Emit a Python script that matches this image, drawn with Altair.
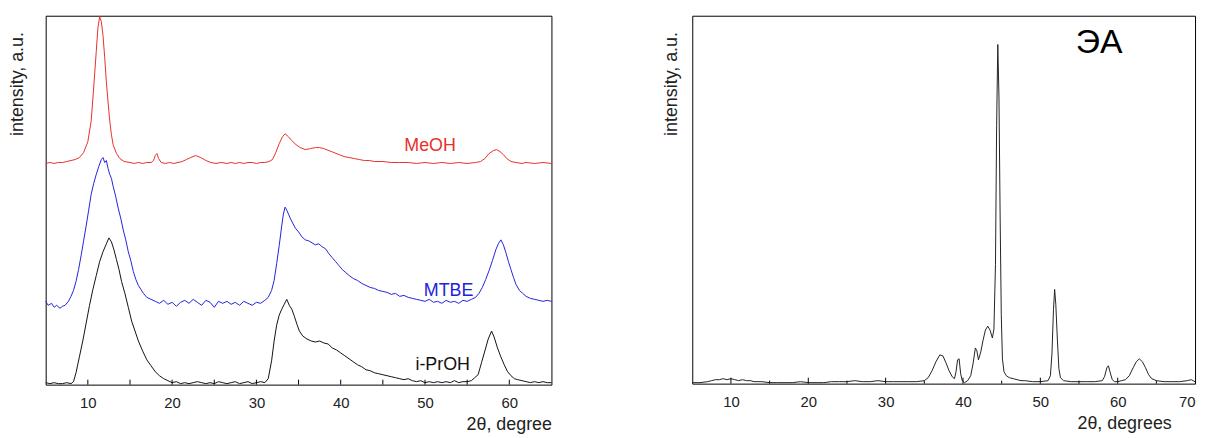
import altair as alt
import pandas as pd

# ---------------- left panel data ----------------
meoh_x = [5.0, 5.5, 6.0, 6.5, 7.0, 7.5, 8.0, 8.5, 9.0, 9.5, 10.0, 10.4, 10.7, 11.0, 11.2, 11.4, 11.6, 11.8,
          12.0, 12.2, 12.4, 12.6, 12.8, 13.0, 13.4, 13.8, 14.3, 15.0, 15.5, 16.0, 16.5, 17.0, 17.5, 17.8,
          18.0, 18.2, 18.4, 18.7, 19.2, 19.7, 20.2, 20.7, 21.2, 21.7, 22.2, 22.8, 23.4, 24.0, 24.6, 25.2,
          25.8, 26.5, 27.0, 27.5, 28.0, 28.5, 29.0, 29.5, 30.0, 30.5, 31.0, 31.5, 31.9, 32.3, 32.7, 33.1,
          33.4, 33.8, 34.2, 34.7, 35.2, 35.8, 36.4, 37.0, 37.5, 38.0, 38.6, 39.2, 39.8, 40.4, 41.0, 41.6,
          42.2, 42.8, 43.4, 44.0, 45.0, 46.0, 47.0, 48.0, 49.0, 50.0, 51.0, 52.0, 53.0, 54.0, 55.0, 56.0,
          56.6, 57.1, 57.6, 58.1, 58.5, 58.9, 59.3, 59.7, 60.2, 60.8, 61.5, 62.0, 63.0, 64.0, 65.0]
meoh_y = [223, 224, 223, 224, 224, 225, 226, 227, 229, 234, 245, 266, 300, 336, 360, 371, 366, 352,
          330, 305, 285, 266, 252, 242, 233, 228, 225, 224, 223, 224, 223, 224, 224, 226,
          231, 233, 228, 224, 223, 224, 223, 224, 225, 227, 229, 231, 229, 226, 224, 223,
          224, 223, 224, 223, 224, 223, 224, 224, 223, 224, 224, 225, 227, 234, 243, 250,
          253, 250, 246, 242, 239, 237, 238, 239, 239, 238, 236, 234, 232, 230, 229, 228,
          227, 226, 226, 225, 225, 224, 224, 224, 223, 224, 223, 224, 223, 224, 223, 224,
          225, 228, 233, 236, 237, 235, 232, 228, 225, 224, 223, 224, 223, 224, 223]

mtbe_x = [5.0, 5.3, 5.7, 6.0, 6.3, 6.7, 7.0, 7.3, 7.7, 8.0, 8.3, 8.6, 8.9, 9.2, 9.5, 9.8, 10.1, 10.4,
          10.7, 11.0, 11.3, 11.6, 11.8, 12.0, 12.2, 12.4, 12.6, 12.8, 13.0, 13.3, 13.6, 13.9, 14.2, 14.5,
          14.8, 15.1, 15.4, 15.7, 16.0, 16.3, 16.6, 17.0, 17.5, 18.0, 18.5, 19.0, 19.5, 20.0, 20.5, 21.0,
          21.5, 22.0, 22.5, 23.0, 23.5, 24.0, 24.5, 25.0, 25.5, 26.0, 26.5, 27.0, 27.5, 28.0, 28.5, 29.0,
          29.5, 30.0, 30.5, 31.0, 31.4, 31.8, 32.1, 32.4, 32.7, 33.0, 33.2, 33.4, 33.6, 33.8, 34.0, 34.3,
          34.6, 35.0, 35.4, 35.8, 36.2, 36.6, 37.0, 37.4, 37.8, 38.2, 38.6, 39.0, 39.4, 39.8, 40.2, 40.6,
          41.0, 41.5, 42.0, 42.5, 43.0, 43.5, 44.0, 44.5, 45.0, 45.5, 46.0, 46.5, 47.0, 47.5, 48.0, 48.5,
          49.0, 49.5, 50.0, 50.5, 51.0, 51.5, 52.0, 52.5, 53.0, 53.5, 54.0, 54.5, 55.0, 55.5, 56.0, 56.4,
          56.8, 57.2, 57.6, 58.0, 58.4, 58.7, 59.0, 59.3, 59.6, 59.9, 60.2, 60.5, 60.8, 61.2, 61.6, 62.0,
          62.5, 63.0, 63.5, 64.0, 64.5, 65.0]
mtbe_y = [84, 80, 82, 78, 80, 77, 79, 80, 84, 89, 95, 104, 116, 130, 145, 160, 176, 192,
          203, 212, 220, 227, 229, 224, 226, 218, 212, 208, 200, 190, 178, 168, 156, 146,
          134, 125, 114, 106, 100, 96, 92, 88, 86, 84, 82, 85, 81, 83, 79, 83,
          85, 82, 86, 83, 80, 85, 83, 78, 84, 82, 84, 81, 83, 80, 84, 82,
          80, 83, 82, 85, 88, 95, 105, 122, 140, 160, 172, 179, 176, 172, 168, 163,
          158, 154, 149, 146, 145, 143, 141, 142, 139, 137, 132, 128, 124, 120, 116, 113,
          110, 107, 105, 102, 100, 98, 97, 95, 94, 93, 91, 92, 89, 90, 88, 87,
          86, 85, 84, 86, 83, 84, 82, 85, 83, 84, 82, 85, 84, 86, 88, 92,
          98, 106, 115, 125, 136, 142, 146, 141, 133, 124, 116, 108, 101, 95, 92, 89,
          87, 86, 85, 84, 85, 84]

iproh_x = [5.0, 5.5, 6.0, 6.5, 7.0, 7.5, 8.0, 8.3, 8.6, 9.0, 9.4, 9.8, 10.2, 10.6, 11.0, 11.4, 11.8,
           12.2, 12.5, 12.8, 13.1, 13.4, 13.7, 14.0, 14.4, 14.8, 15.2, 15.6, 16.0, 16.5, 17.0, 17.5,
           18.0, 18.5, 19.0, 19.5, 20.0, 20.5, 21.0, 21.5, 22.0, 22.5, 23.0, 23.5, 24.0, 24.5, 25.0,
           25.5, 26.0, 26.5, 27.0, 27.5, 28.0, 28.5, 29.0, 29.5, 30.0, 30.5, 31.0, 31.4, 31.8, 32.1,
           32.4, 32.7, 33.0, 33.3, 33.6, 33.9, 34.2, 34.5, 34.8, 35.1, 35.5, 36.0, 36.5, 37.0, 37.5,
           38.0, 38.5, 39.0, 39.5, 40.0, 40.5, 41.0, 41.5, 42.0, 42.5, 43.0, 43.5, 44.0, 44.5, 45.0,
           45.5, 46.0, 46.5, 47.0, 47.5, 48.0, 48.5, 49.0, 49.5, 50.0, 50.5, 51.0, 51.5, 52.0, 52.5,
           53.0, 53.5, 54.0, 54.5, 55.0, 55.5, 55.9, 56.3, 56.7, 57.1, 57.5, 57.9, 58.2, 58.6, 59.0,
           59.4, 59.8, 60.2, 60.6, 61.0, 61.5, 62.0, 62.5, 63.0, 63.5, 64.0, 64.5, 65.0]
iproh_y = [2, 1, 2, 1, 1, 2, 1, 3, 12, 28, 44, 62, 80, 96, 110, 124, 134,
           142, 148, 144, 136, 126, 116, 104, 92, 78, 64, 54, 44, 34, 25, 19,
           13, 9, 6, 4, 2, 3, 1, 2, 1, 2, 3, 2, 1, 2, 1,
           3, 2, 1, 2, 3, 1, 2, 3, 1, 2, 3, 2, 6, 24, 44,
           60, 70, 76, 81, 86, 80, 76, 69, 61, 54, 49, 46, 44, 43, 44,
           42, 41, 37, 35, 32, 29, 26, 23, 20, 18, 15, 14, 12, 11, 10,
           9, 8, 7, 6, 5, 6, 4, 3, 4, 2, 3, 2, 3, 2, 3,
           2, 4, 2, 3, 3, 4, 7, 10, 22, 34, 46, 54, 48, 37, 28,
           20, 13, 9, 6, 5, 4, 3, 2, 3, 2, 3, 2, 2]

series_names = ["MeOH", "MTBE", "i-PrOH"]
series_colors = ["#e8302a", "#2222dd", "#111111"]

label_text = ["MeOH", "MTBE", "i-PrOH"]
label_x = [50.6, 52.8, 52.1]
label_y = [241, 94, 20]

left_ticks = [10, 15, 20, 25, 30, 35, 40, 45, 50, 55, 60]

# ---------------- right panel data ----------------
ea_x = [5, 6, 7, 7.5, 8, 8.5, 9, 9.5, 10, 10.5, 11, 11.5, 12, 12.5, 13, 14, 15, 16, 17, 18, 19, 20,
        21, 22, 23, 24, 25, 26, 27, 28, 29, 30, 31, 32, 33, 34, 35, 35.5, 36.0, 36.5, 37.0, 37.4,
        37.8, 38.2, 38.6, 38.9, 39.1, 39.3, 39.5, 39.7, 39.9, 40.2, 40.6, 41.0, 41.3, 41.6, 41.8,
        42.0, 42.3, 42.6, 42.9, 43.2, 43.5, 43.8, 44.0, 44.2, 44.35, 44.5, 44.65, 44.8, 44.95, 45.1,
        45.3, 45.6, 46, 46.5, 47, 47.5, 48, 49, 50, 51, 51.3, 51.5, 51.7, 51.85, 52.0, 52.2, 52.4,
        52.6, 53, 54, 55, 56, 57, 58, 58.3, 58.6, 58.8, 59.0, 59.3, 59.6, 60, 60.5, 61, 61.5, 62.0,
        62.4, 62.8, 63.2, 63.6, 64.0, 64.4, 65, 66, 67, 68, 69, 69.5, 70]
ea_y = [1, 1, 2, 3, 4, 4, 5, 4, 5, 4, 3, 4, 3, 3, 2, 2, 1, 1, 1, 1, 2, 1,
        1, 1, 2, 2, 2, 3, 2, 2, 3, 2, 2, 2, 2, 2, 3, 6, 13, 22, 29, 28,
        21, 13, 7, 5, 12, 24, 25, 10, 3, 1, 3, 8, 20, 36, 33,
        24, 32, 44, 54, 58, 54, 46, 55, 120, 260, 342, 290, 170, 70, 25,
        12, 8, 6, 5, 4, 3, 3, 2, 2, 3, 8, 30, 75, 95, 80, 45, 15,
        6, 3, 2, 2, 2, 2, 3, 7, 16, 18, 12, 4, 2, 2, 3, 4, 8, 16,
        22, 25, 22, 16, 9, 5, 3, 2, 2, 2, 3, 4, 2]

ea_label_text = ["ЭА"]
ea_label_x = [57.6]
ea_label_y = [343]

right_major = [10, 20, 30, 40, 50, 60]
right_minor = [15, 25, 35, 45, 55, 65]

FONT = "Liberation Sans"

# ---------------- build left panel ----------------
rows = []
for name, xs, ys in [("MeOH", meoh_x, meoh_y), ("MTBE", mtbe_x, mtbe_y), ("i-PrOH", iproh_x, iproh_y)]:
    for a, b in zip(xs, ys):
        rows.append({"x": a, "y": b, "series": name})
left_df = pd.DataFrame(rows)
left_lab = pd.DataFrame({"x": label_x, "y": label_y, "text": label_text, "series": label_text})

LW, LH = 510, 372
color = alt.Color("series:N", scale=alt.Scale(domain=series_names, range=series_colors), legend=None)

xl = alt.X("x:Q", scale=alt.Scale(domain=[5, 65], nice=False, zero=False),
           axis=alt.Axis(values=[10, 20, 30, 40, 50, 60], title="2θ, degree", grid=False,
                         ticks=False, tickSize=0, domain=False, labelPadding=11,
                         titleX=LW, titleY=45, titleAlign="right", titleBaseline="alphabetic"))
yl = alt.Y("y:Q", scale=alt.Scale(domain=[0, LH], nice=False),
           axis=alt.Axis(labels=False, ticks=False, domain=False, grid=False, title="intensity, a.u.",
                         titleX=-19, titleY=16, titleAngle=270, titleAlign="right", titleBaseline="bottom"))

left_lines = alt.Chart(left_df).mark_line(strokeWidth=1, interpolate="linear").encode(
    x=xl, y=yl, color=color, detail="series:N")
left_labels = alt.Chart(left_lab).mark_text(fontSize=18, font=FONT, align="center", baseline="middle").encode(
    x="x:Q", y="y:Q", text="text:N", color=color)
left_tk = alt.Chart(pd.DataFrame({"t": left_ticks})).mark_rule(color="black", strokeWidth=1).encode(
    x="t:Q", y=alt.value(LH), y2=alt.value(LH - 5))
left = alt.layer(left_lines, left_labels, left_tk).properties(width=LW, height=LH)

# ---------------- build right panel ----------------
RW, RH = 507, 371
right_df = pd.DataFrame({"x": ea_x, "y": ea_y})
xr = alt.X("x:Q", scale=alt.Scale(domain=[5, 70], nice=False, zero=False),
           axis=alt.Axis(values=[10, 20, 30, 40, 50, 60, 70], title="2θ, degrees", grid=False,
                         ticks=False, tickSize=0, domain=False, labelPadding=11,
                         titleX=483, titleY=45, titleAlign="right", titleBaseline="alphabetic"))
yr = alt.Y("y:Q", scale=alt.Scale(domain=[0, RH], nice=False),
           axis=alt.Axis(labels=False, ticks=False, domain=False, grid=False, title="intensity, a.u.",
                         titleX=-12, titleY=16, titleAngle=270, titleAlign="right", titleBaseline="bottom"))
right_line = alt.Chart(right_df).mark_line(strokeWidth=1, color="#222222").encode(x=xr, y=yr)
right_label = alt.Chart(pd.DataFrame({"x": ea_label_x, "y": ea_label_y, "text": ea_label_text})).mark_text(
    fontSize=34, font=FONT, align="center", baseline="middle", color="black").encode(
    x="x:Q", y="y:Q", text="text:N")
right_maj = alt.Chart(pd.DataFrame({"t": right_major})).mark_rule(color="black", strokeWidth=1).encode(
    x="t:Q", y=alt.value(RH), y2=alt.value(RH - 6))
right_min = alt.Chart(pd.DataFrame({"t": right_minor})).mark_rule(color="black", strokeWidth=1).encode(
    x="t:Q", y=alt.value(RH), y2=alt.value(RH - 3))
right = alt.layer(right_line, right_label, right_maj, right_min).properties(width=RW, height=RH)

chart = alt.hconcat(left, right, spacing=108).properties(
    padding={"left": 0, "top": 4, "right": 2, "bottom": 0}
).configure_view(stroke="black", strokeWidth=1).configure_axis(
    labelFont=FONT, labelFontSize=15, labelColor="#222222",
    titleFont=FONT, titleFontSize=18, titleFontWeight="normal", titleColor="#222222"
).configure_text(font=FONT)

chart.save("out.html", embed_options={"renderer": "svg", "actions": False})
